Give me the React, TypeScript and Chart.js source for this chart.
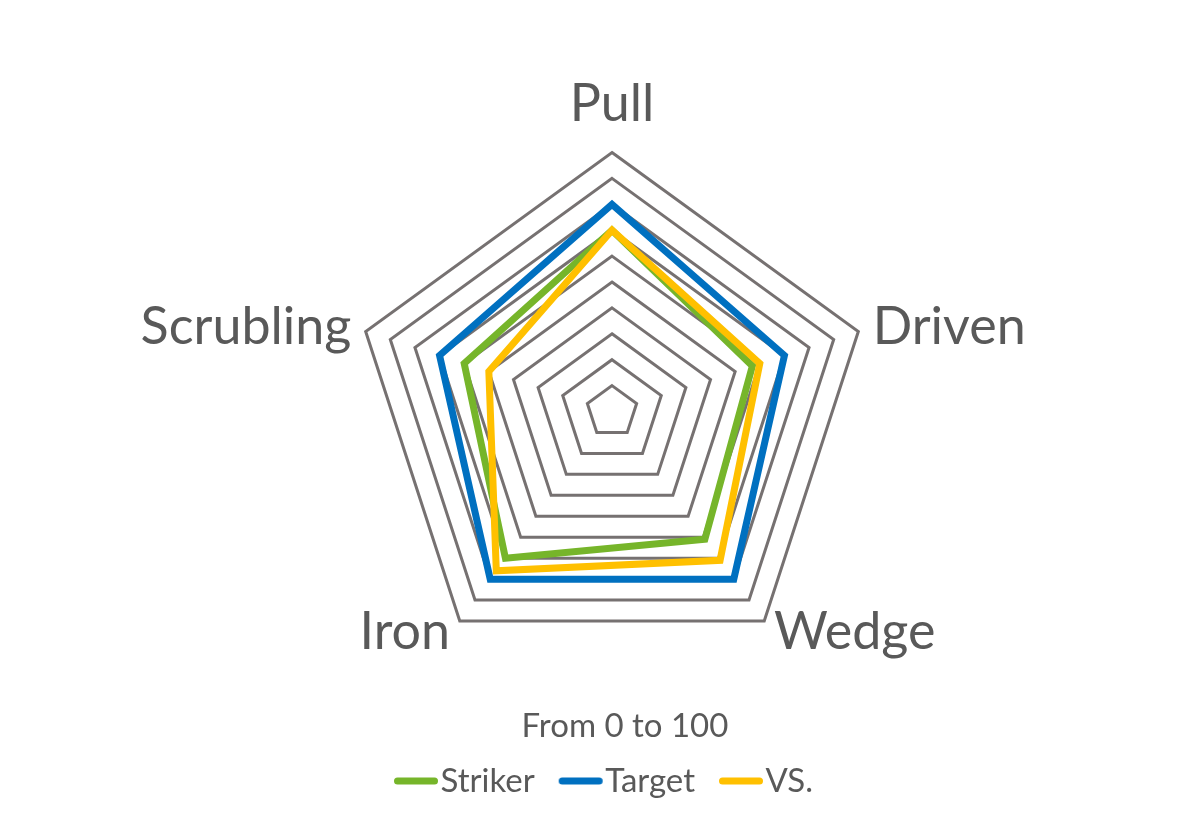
import React, { useEffect, useRef } from 'react';
import { Chart, registerables } from 'chart.js';

Chart.register(...registerables);

// ---- data ----
const categories = ['Pull', 'Driven', 'Wedge', 'Iron', 'Scrubling'];
const strikerValues = [70, 57, 61, 70, 60];
const targetValues = [80, 70, 80, 80, 70];
const vsValues = [70, 60, 71, 76, 50];
const seriesNames = ['Striker', 'Target', 'VS.'];
const subtitleText = 'From 0 to 100';
const axisMin = 0;
const axisMax = 100;
const axisStep = 10;

// ---- styles ----
const GREEN = '#76B52A';
const BLUE = '#0070C0';
const YELLOW = '#FFC000';
const GRID = '#767171';
const TEXT = '#595959';
const FONT = 'Lato, "Open Sans", sans-serif';
const CX = 612;
const CY = 411.5;
const RADIUS = 259;

function makeMarker(color: string): HTMLCanvasElement {
  const c = document.createElement('canvas');
  c.width = 64;
  c.height = 12;
  const g = c.getContext('2d')!;
  g.strokeStyle = color;
  g.lineWidth = 7;
  g.lineCap = 'round';
  g.beginPath();
  g.moveTo(20.5, 6);
  g.lineTo(57.5, 6);
  g.stroke();
  return c;
}

const textPlugin = {
  id: 'radarTextLabels',
  afterDraw(chart: any) {
    const s = chart.scales.r;
    const ctx = chart.ctx;
    ctx.save();
    ctx.fillStyle = TEXT;
    ctx.font = `52px ${FONT}`;
    ctx.textBaseline = 'alphabetic';
    (chart.data.labels as string[]).forEach((lab, i) => {
      if (i === 0) {
        const p = s.getPointPosition(i, s.drawingArea + 32);
        ctx.textAlign = 'center';
        ctx.fillText(lab, p.x, p.y);
      } else {
        const p = s.getPointPosition(i, s.drawingArea + 13);
        const right = p.x > s.xCenter;
        ctx.textAlign = right ? 'left' : 'right';
        ctx.fillText(lab, p.x + (right ? 2 : -2), p.y + 17);
      }
    });
    ctx.font = `33px ${FONT}`;
    ctx.textAlign = 'center';
    ctx.fillText(subtitleText, s.xCenter + 13, 737);
    ctx.restore();
  },
};

export default function App() {
  const ref = useRef<HTMLCanvasElement | null>(null);

  useEffect(() => {
    if (!ref.current) return;
    const colors = [GREEN, BLUE, YELLOW];
    const markers = colors.map(makeMarker);
    const values = [strikerValues, targetValues, vsValues];
    const orders = [3, 2, 1];

    const chart = new Chart(ref.current, {
      type: 'radar',
      data: {
        labels: categories,
        datasets: seriesNames.map((name, i) => ({
          label: name,
          data: values[i],
          borderColor: colors[i],
          backgroundColor: 'transparent',
          borderWidth: 7,
          borderJoinStyle: 'miter' as const,
          fill: false,
          pointRadius: 0,
          pointHoverRadius: 0,
          tension: 0,
          order: orders[i],
        })),
      },
      options: {
        responsive: false,
        animation: false,
        layout: { padding: { left: 7, right: 0, top: 0, bottom: 12.5 } },
        scales: {
          r: {
            min: axisMin,
            max: axisMax,
            ticks: { stepSize: axisStep, display: false },
            grid: { color: GRID, lineWidth: 3, circular: false },
            angleLines: { display: false },
            pointLabels: { display: false },
            afterFit: (scale: any) => {
              scale.xCenter = CX;
              scale.yCenter = CY;
              scale.drawingArea = RADIUS;
            },
          },
        },
        plugins: {
          tooltip: { enabled: false },
          legend: {
            position: 'bottom',
            labels: {
              color: TEXT,
              font: { family: FONT, size: 33 },
              usePointStyle: true,
              pointStyleWidth: 30,
              padding: 24,
              generateLabels: (c: any) => {
                const items = (Chart.defaults.plugins.legend.labels as any).generateLabels(c);
                return items
                  .slice()
                  .sort((a: any, b: any) => a.datasetIndex - b.datasetIndex)
                  .map((it: any) => ({ ...it, pointStyle: markers[it.datasetIndex] }));
              },
            },
          },
        },
      } as any,
      plugins: [textPlugin],
    });

    return () => chart.destroy();
  }, []);

  return (
    <div style={{ position: 'fixed', left: 0, top: 0, width: 1200, height: 820, background: '#fff' }}>
      <canvas ref={ref} width={1200} height={820} style={{ display: 'block', width: 1200, height: 820 }} />
    </div>
  );
}
